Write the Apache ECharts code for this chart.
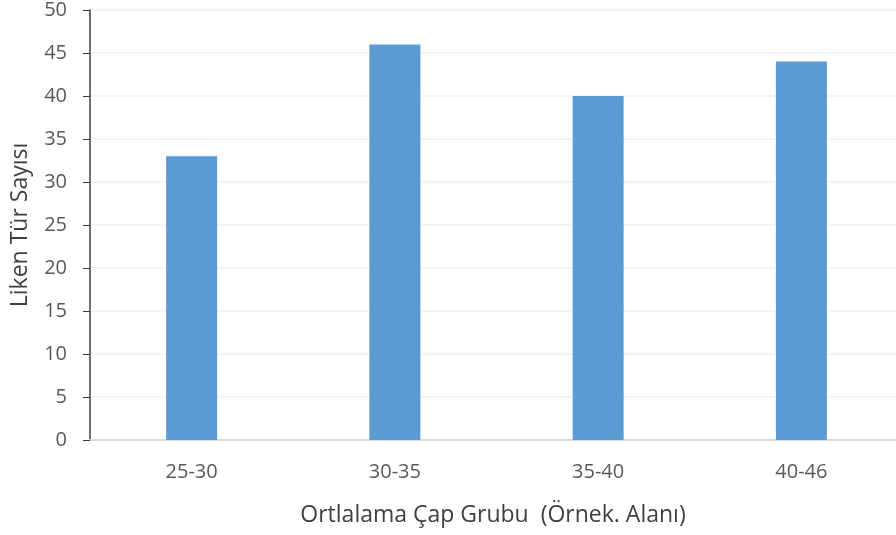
<!DOCTYPE html>
<html>
<head>
<meta charset="utf-8">
<script src="https://cdn.jsdelivr.net/npm/echarts@6/dist/echarts.min.js"></script>
<style>
	html, body { margin: 0; padding: 0; background: #fff; }
	#chart { width: 896px; height: 535px; }
</style>
</head>
<body>
<div id="chart"></div>
<script>
const categories = ['25-30', '30-35', '35-40', '40-46']
const speciesCounts = [33, 46, 40, 44]
const yTitle = 'Liken Tür Sayısı'
const xTitle = 'Ortlalama Çap Grubu  (Örnek. Alanı)'

const chart = echarts.init(document.getElementById('chart'))
const font = '"Open Sans", "Noto Sans", sans-serif'

chart.setOption({
	animation: false,
	// plot runs a bit past the right edge, like the source
	grid: { left: 90, width: 813, top: 10, bottom: 95, outerBoundsMode: 'none' },
	graphic: [{
		type: 'text',
		x: 493,
		y: 515,
		style: {
			text: xTitle,
			fill: '#404040',
			fontSize: 23,
			fontFamily: font,
			align: 'center',
			verticalAlign: 'middle'
		}
	}],
	xAxis: {
		type: 'category',
		data: categories,
		axisLine: { lineStyle: { color: '#d9d9d9', width: 2 } },
		axisTick: { show: false },
		axisLabel: { color: '#595959', fontSize: 20, fontFamily: font, margin: 22 }
	},
	yAxis: {
		type: 'value',
		min: 0,
		max: 50,
		interval: 5,
		name: yTitle,
		nameLocation: 'middle',
		nameGap: 58,
		nameTextStyle: { color: '#404040', fontSize: 23, fontFamily: font },
		axisLine: { show: true, lineStyle: { color: '#404040', width: 1.5 } },
		axisTick: { show: true, length: 7, lineStyle: { color: '#404040' } },
		axisLabel: { color: '#595959', fontSize: 20, fontFamily: font, margin: 23 },
		splitLine: { lineStyle: { color: '#f0f0f0', width: 1.5 } }
	},
	series: [{
		type: 'bar',
		data: speciesCounts,
		barWidth: 51,
		itemStyle: { color: '#5b9bd5' }
	}]
})
</script>
</body>
</html>
